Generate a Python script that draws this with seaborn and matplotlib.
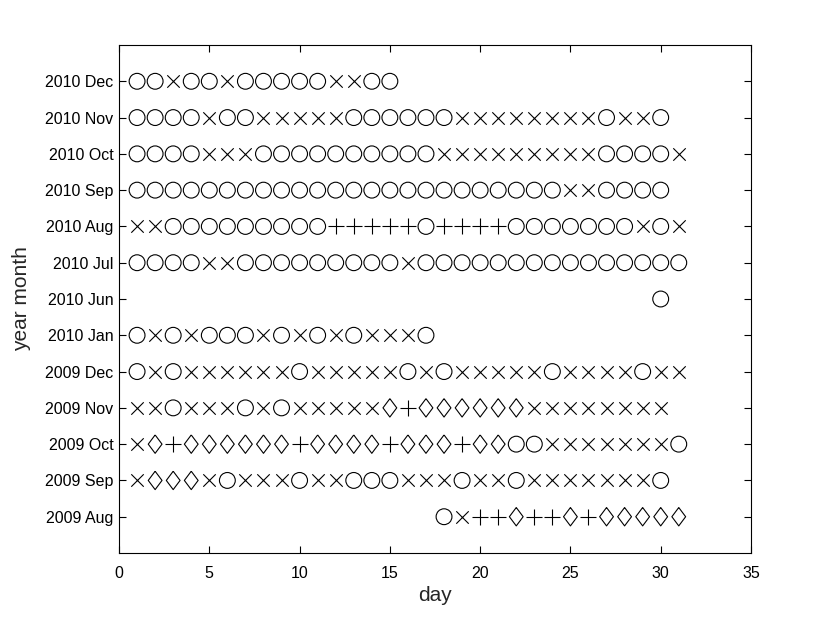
import pandas as pd
import matplotlib
matplotlib.use("Agg")
import matplotlib.pyplot as plt
import seaborn as sns

# year-month rows, bottom to top
months = ["2009 Aug", "2009 Sep", "2009 Oct", "2009 Nov", "2009 Dec",
          "2010 Jan", "2010 Jun", "2010 Jul", "2010 Aug", "2010 Sep",
          "2010 Oct", "2010 Nov", "2010 Dec"]
# first day with a mark in each row
first_day = [18, 1, 1, 1, 1, 1, 30, 1, 1, 1, 1, 1, 1]
# one code per consecutive day: o circle, x cross, + plus, d diamond
day_codes = [
    "ox++d++d+ddddd",
    "xdddxoxxxoxxoooxxxoxxoxxxxxxxo",
    "xd+dddddd+dddd+ddd+ddooxxxxxxxo",
    "xxoxxxoxoxxxxxd+ddddddxxxxxxxx",
    "oxoxxxxxxoxxxxxoxoxxxxxoxxxxoxx",
    "oxoxoooxoxoxoxxxo",
    "o",
    "ooooxxoooooooooxooooooooooooooo",
    "xxooooooooo+++++o++++oooooooxox",
    "ooooooooooooooooooooooooxxoooo",
    "ooooxxxooooooooooxxxxxxxxxoooox",
    "ooooxooxxxxxooooooxxxxxxxxoxxo",
    "ooxooxoooooxxoo",
]

rows = []
for i, (m, d0, codes) in enumerate(zip(months, first_day, day_codes)):
    for k, c in enumerate(codes):
        rows.append({"month": m, "pos": i + 1, "day": d0 + k, "kind": c})
df = pd.DataFrame(rows)

sns.set_style("ticks")
plt.rcParams["font.family"] = ["Liberation Sans", "DejaVu Sans"]

fig = plt.figure(figsize=(8.3, 6.25), dpi=100)
ax = fig.add_axes([0.1434, 0.1152, 0.7614, 0.8128])

diamond = [(0, 1), (0.75, 0), (0, -1), (-0.75, 0), (0, 1)]
styles = {
    "o": dict(marker="o", s=130, facecolor="none", edgecolor="black"),
    "d": dict(marker=diamond, s=175, facecolor="none", edgecolor="black"),
    "x": dict(marker="x", s=80),
    "+": dict(marker="+", s=140),
}
for kind, kw in styles.items():
    sub = df[df["kind"] == kind]
    sns.scatterplot(data=sub, x="day", y="pos", ax=ax, color="black",
                    linewidth=0.8, legend=False, **kw)

ax.set_xlim(0, 35)
ax.set_ylim(0, 14)
ax.set_xticks(range(0, 36, 5))
ax.set_yticks(range(1, len(months) + 1))
ax.set_yticklabels(months)
ax.set_xlabel("day", fontsize=15, labelpad=4)
ax.set_ylabel("year month", fontsize=15, labelpad=10)
ax.tick_params(direction="in", top=True, right=True, length=5, width=0.8,
               labelsize=11.5, colors="black")
ax.tick_params(axis="x", pad=9)
ax.tick_params(axis="y", pad=4)
for sp in ax.spines.values():
    sp.set_visible(True)
    sp.set_linewidth(0.8)
    sp.set_color("black")

fig.savefig("out.png", dpi=100)
